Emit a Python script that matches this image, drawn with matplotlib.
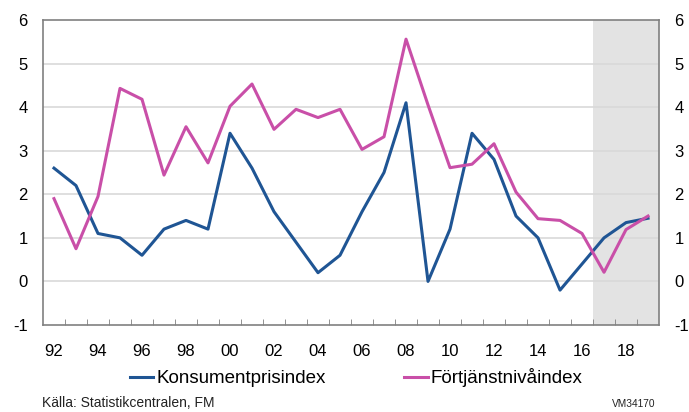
import numpy as np
import matplotlib
matplotlib.use("Agg")
import matplotlib.pyplot as plt

plt.rcParams['font.family'] = ['Liberation Sans', 'DejaVu Sans']
plt.rcParams['axes.unicode_minus'] = False

years = list(range(1992, 2020))
kpi = [2.6, 2.2, 1.1, 1.0, 0.6, 1.2, 1.4, 1.2, 3.4, 2.6, 1.6, 0.9, 0.2, 0.6,
       1.6, 2.5, 4.1, 0.0, 1.2, 3.4, 2.8, 1.5, 1.0, -0.2, 0.4, 1.0, 1.35, 1.45]
fni = [1.9, 0.75, 1.95, 4.43, 4.18, 2.44, 3.55, 2.72, 4.02, 4.53, 3.49, 3.95,
       3.76, 3.95, 3.03, 3.32, 5.56, 4.05, 2.61, 2.69, 3.16, 2.05, 1.44, 1.4,
       1.1, 0.21, 1.19, 1.5]
tick_years = list(range(1992, 2020, 2))
tick_labels = [f"{y % 100:02d}" for y in tick_years]

blue = "#1f5594"
pink = "#c94fa8"

fig = plt.figure(figsize=(6.89, 4.12), dpi=100)
ax = fig.add_axes([0.0624, 0.2112, 0.8941, 0.7403])

ax.axvspan(2016.5, 2019.5, color="#e3e3e3", zorder=0, lw=0)
for v in range(0, 6):
    ax.axhline(v, color="#d9d9d9", lw=1.2, zorder=1)

ax.plot(years, kpi, color=blue, lw=2.2, label="Konsumentprisindex", zorder=3)
ax.plot(years, fni, color=pink, lw=2.2, label="Förtjänstnivåindex", zorder=3)

ax.set_xlim(1991.5, 2019.5)
ax.set_ylim(-1, 6)
ax.set_yticks(range(-1, 7))
ax.set_xticks(tick_years)
ax.set_xticklabels(tick_labels)
ax.set_xticks(np.arange(1992.5, 2019.5, 1), minor=True)
ax.tick_params(axis="x", which="major", length=0, labelsize=12, pad=14)
ax.tick_params(axis="x", which="minor", direction="in", length=4, color="#808080")
ax.tick_params(axis="y", length=0, labelsize=12, pad=11,
               labelleft=True, labelright=True)
for s in ax.spines.values():
    s.set_color("#808080")
    s.set_linewidth(1.2)

fig.legend(loc="center", bbox_to_anchor=(0.517, 0.083), ncol=2, frameon=False,
           fontsize=13.5, handlelength=1.25, columnspacing=4.2, handletextpad=0.15)
fig.text(0.061, 0.012, "Källa: Statistikcentralen, FM", fontsize=10, color="#222222")
fig.text(0.951, 0.012, "VM34170", fontsize=7.3, color="#222222", ha="right")

fig.savefig("out.png", dpi=100)
